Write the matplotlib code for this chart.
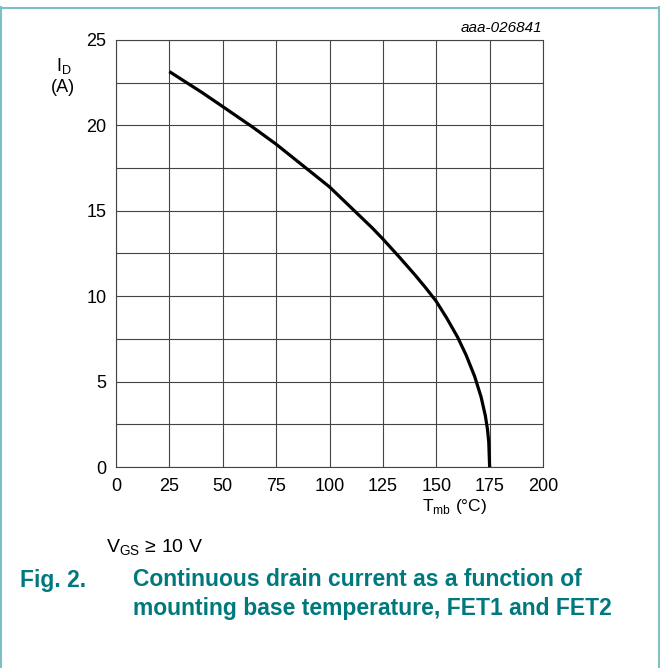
import matplotlib
matplotlib.use("Agg")
import matplotlib.pyplot as plt

plt.rcParams['font.family'] = ['Liberation Sans', 'DejaVu Sans']

# Data
t_mb = [25, 40, 50, 64, 75, 90, 100, 110, 120, 125, 133, 140, 145, 150, 155, 160,
        164, 168, 171, 173, 174, 174.6, 175]
i_d = [23.15, 21.95, 21.1, 19.9, 18.9, 17.4, 16.4, 15.2, 14.0, 13.35, 12.25, 11.25,
       10.5, 9.7, 8.7, 7.6, 6.55, 5.3, 4.1, 3.0, 2.2, 1.45, 0.0]

x_ticks = [0, 25, 50, 75, 100, 125, 150, 175, 200]
y_ticks = [0, 5, 10, 15, 20, 25]
y_grid = [0, 2.5, 5, 7.5, 10, 12.5, 15, 17.5, 20, 22.5, 25]

W, H = 660, 668
fig = plt.figure(figsize=(W / 100, H / 100), dpi=100)

ax = fig.add_axes([116 / W, 1 - 467 / H, 427 / W, 427 / H])
ax.set_xlim(0, 200)
ax.set_ylim(0, 25)
ax.set_xticks(x_ticks)
ax.set_yticks(y_grid)
ax.set_yticklabels([("%g" % v) if v in y_ticks else "" for v in y_grid])
ax.tick_params(length=0, labelsize=13, colors='black')
ax.tick_params(axis='x', pad=8)
ax.tick_params(axis='y', pad=7)
ax.grid(True, color='#444444', linewidth=0.8)
for s in ax.spines.values():
    s.set_linewidth(0.8)
    s.set_color('#444444')
ax.plot(t_mb, i_d, color='black', linewidth=2.3, solid_capstyle='butt', zorder=3)

# axis labels
fig.text(64 / W, 1 - 66 / H, r"I$_\mathregular{D}$", fontsize=13, ha='center', va='center')
fig.text(63 / W, 1 - 87 / H, "(A)", fontsize=13, ha='center', va='center')
fig.text(455 / W, 1 - 507 / H, r"T$_\mathregular{mb}$ (°C)", fontsize=12.5, ha='center', va='center')
fig.text(542 / W, 1 - 28 / H, "aaa-026841", fontsize=11, style='italic', ha='right', va='center')

fig.text(106 / W, 1 - 548 / H, r"V$_\mathregular{GS}$ ≥ 10 V", fontsize=14, ha='left', va='center')

teal = '#00797d'
fig.text(20 / W, 1 - 580 / H, "Fig. 2.", fontsize=16.5, fontweight='bold', color=teal, ha='left', va='center')
fig.text(133 / W, 1 - 580 / H, "Continuous drain current as a function of", fontsize=16.5,
         fontweight='bold', color=teal, ha='left', va='center')
fig.text(133 / W, 1 - 608 / H, "mounting base temperature, FET1 and FET2", fontsize=16.5,
         fontweight='bold', color=teal, ha='left', va='center')

# frame border (top, left, right)
border = '#7fc0c4'
fig.add_artist(plt.Line2D([0.5 / W, 0.5 / W], [0, 1 - 7 / H], color=border, lw=1.5, transform=fig.transFigure))
fig.add_artist(plt.Line2D([659.3 / W, 659.3 / W], [0, 1 - 7 / H], color=border, lw=1.5, transform=fig.transFigure))
fig.add_artist(plt.Line2D([0, 1], [1 - 7.5 / H, 1 - 7.5 / H], color=border, lw=1.5, transform=fig.transFigure))

fig.savefig("out.png", dpi=100)
